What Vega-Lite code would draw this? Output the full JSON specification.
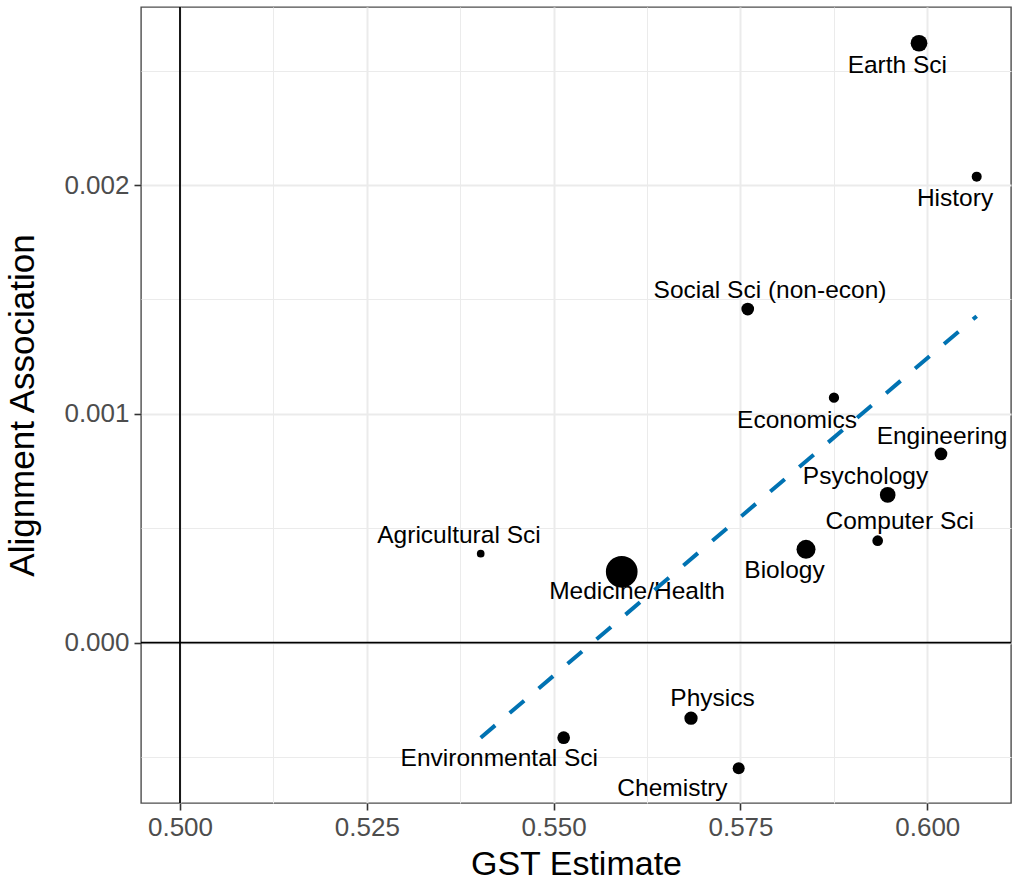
{
  "$schema": "https://vega.github.io/schema/vega-lite/v6.json",
  "width": 870,
  "height": 796,
  "autosize": {"type": "none"},
  "padding": {"left": 141, "top": 7, "right": 2, "bottom": 78},
  "background": "white",
  "config": {
    "view": {"stroke": "#4d4d4d", "strokeWidth": 1.4},
    "font": "Liberation Sans",
    "axis": {
      "domain": false,
      "labelFont": "Liberation Sans",
      "titleFont": "Liberation Sans",
      "labelFontSize": 26,
      "labelColor": "#4D4D4D",
      "titleFontSize": 35,
      "titleFontWeight": "normal",
      "titleColor": "black",
      "tickColor": "#333333",
      "tickWidth": 1.6,
      "tickSize": 7,
      "gridColor": "#EBEBEB",
      "labelOverlap": false,
      "labelFlush": false,
      "labelBound": false
    }
  },
  "layer": [
    {
      "data": {"values": [{"ref": 0}]},
      "mark": {"type": "rule", "color": "black", "strokeWidth": 1.8},
      "encoding": {
        "y": {"field": "ref", "type": "quantitative", "title": "Alignment Association"}
      }
    },
    {
      "data": {"values": [{"ref": 0.5}]},
      "mark": {"type": "rule", "color": "black", "strokeWidth": 1.8},
      "encoding": {
        "x": {"field": "ref", "type": "quantitative", "title": "GST Estimate"}
      }
    },
    {
      "data": {"name": "fields", "values": [
        {"field": "Earth Sci", "gst": 0.59889, "align": 0.002620, "n": 279, "lx": 0.59599, "ly": 0.002491},
        {"field": "History", "gst": 0.60661, "align": 0.002037, "n": 100, "lx": 0.60371, "ly": 0.001909},
        {"field": "Social Sci (non-econ)", "gst": 0.57597, "align": 0.001458, "n": 161, "lx": 0.57895, "ly": 0.001508},
        {"field": "Economics", "gst": 0.58751, "align": 0.001071, "n": 106, "lx": 0.58256, "ly": 0.000940},
        {"field": "Engineering", "gst": 0.60183, "align": 0.000825, "n": 161, "lx": 0.60197, "ly": 0.000867},
        {"field": "Psychology", "gst": 0.59470, "align": 0.000646, "n": 246, "lx": 0.59173, "ly": 0.000692},
        {"field": "Computer Sci", "gst": 0.59336, "align": 0.000446, "n": 114, "lx": 0.59631, "ly": 0.000495},
        {"field": "Biology", "gst": 0.58377, "align": 0.000408, "n": 361, "lx": 0.58089, "ly": 0.000284},
        {"field": "Agricultural Sci", "gst": 0.54024, "align": 0.000389, "n": 59, "lx": 0.53733, "ly": 0.000437},
        {"field": "Medicine/Health", "gst": 0.55911, "align": 0.000310, "n": 1005, "lx": 0.56115, "ly": 0.000189},
        {"field": "Physics", "gst": 0.56838, "align": -0.000330, "n": 177, "lx": 0.57126, "ly": -0.000277},
        {"field": "Environmental Sci", "gst": 0.55134, "align": -0.000415, "n": 161, "lx": 0.54273, "ly": -0.000539},
        {"field": "Chemistry", "gst": 0.57476, "align": -0.000549, "n": 144, "lx": 0.56590, "ly": -0.000670}
      ]},
      "layer": [
        {
          "mark": {"type": "circle", "color": "black", "opacity": 1},
          "encoding": {
            "x": {
              "field": "gst", "type": "quantitative", "title": "GST Estimate",
              "scale": {"domain": [0.494781, 0.6112], "nice": false, "zero": false},
              "axis": {
                "values": [0.5, 0.5125, 0.525, 0.5375, 0.55, 0.5625, 0.575, 0.5875, 0.6],
                "labelExpr": "abs(datum.value*40 - round(datum.value*40)) > 0.1 ? '' : format(datum.value, '.3f')",
                "gridWidth": {"condition": {"test": "abs(datum.value*40 - round(datum.value*40)) > 0.1", "value": 1}, "value": 2},
                "tickOpacity": {"condition": {"test": "abs(datum.value*40 - round(datum.value*40)) > 0.1", "value": 0}, "value": 1},
                "labelPadding": 4,
                "titleFontSize": 34,
                "titleBaseline": "alphabetic",
                "titleY": 71
              }
            },
            "y": {
              "field": "align", "type": "quantitative", "title": "Alignment Association",
              "scale": {"domain": [-0.0007006, 0.0027784], "nice": false, "zero": false},
              "axis": {
                "values": [-0.0005, 0, 0.0005, 0.001, 0.0015, 0.002, 0.0025],
                "labelExpr": "abs(datum.value*1000 - round(datum.value*1000)) > 0.1 ? '' : format(datum.value, '.3f')",
                "gridWidth": {"condition": {"test": "abs(datum.value*1000 - round(datum.value*1000)) > 0.1", "value": 1}, "value": 2},
                "tickOpacity": {"condition": {"test": "abs(datum.value*1000 - round(datum.value*1000)) > 0.1", "value": 0}, "value": 1},
                "labelPadding": 5,
                "titleBaseline": "alphabetic",
                "titleX": -108
              }
            },
            "size": {
              "field": "n", "type": "quantitative",
              "scale": {"type": "linear", "domain": [0, 1000], "range": [0, 1000]},
              "legend": null
            }
          }
        },
        {
          "mark": {"type": "text", "color": "black", "fontSize": 24.5, "font": "Liberation Sans", "baseline": "alphabetic", "align": "center"},
          "encoding": {
            "x": {"field": "lx", "type": "quantitative", "title": "GST Estimate"},
            "y": {"field": "ly", "type": "quantitative", "title": "Alignment Association"},
            "text": {"field": "field"}
          }
        }
      ]
    },
    {
      "data": {"values": [
        {"gst": 0.54024, "fit": -0.000415},
        {"gst": 0.60661, "fit": 0.001427}
      ]},
      "mark": {"type": "line", "color": "#0072B2", "strokeWidth": 4, "strokeDash": [19, 19], "strokeCap": "butt"},
      "encoding": {
        "x": {"field": "gst", "type": "quantitative", "title": "GST Estimate"},
        "y": {"field": "fit", "type": "quantitative", "title": "Alignment Association"}
      }
    }
  ]
}
